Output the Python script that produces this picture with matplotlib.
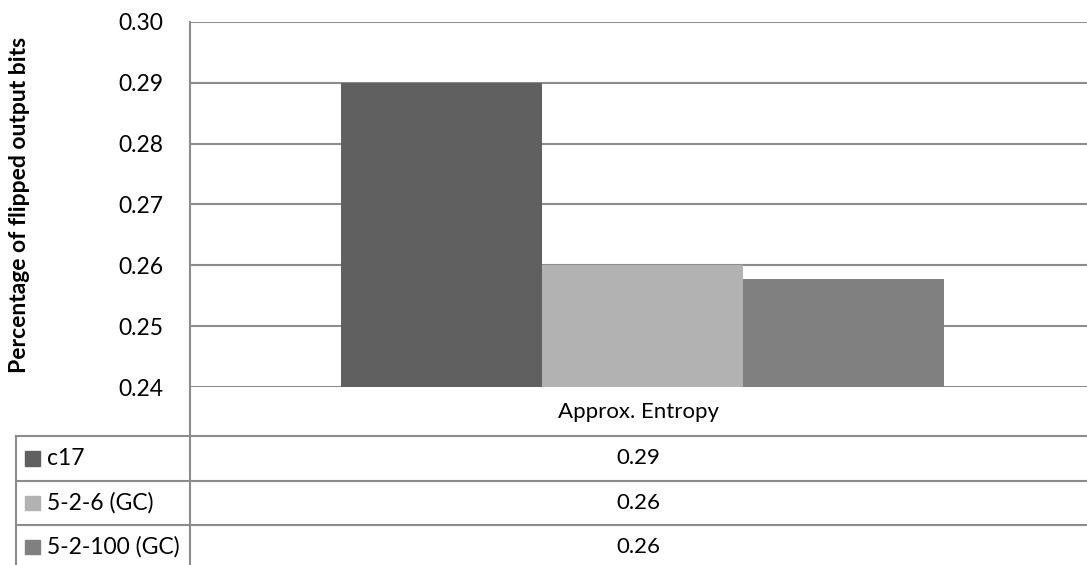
import numpy as np
import matplotlib
matplotlib.use('Agg')
import matplotlib.pyplot as plt
from matplotlib.lines import Line2D
from matplotlib.patches import Rectangle

categories = ['Approx. Entropy']
series = ['c17', '5-2-6 (GC)', '5-2-100 (GC)']
values = [0.29, 0.26, 0.2578]
table_text = ['0.29', '0.26', '0.26']
colors = ['#606060', '#b2b2b2', '#808080']
yticks = [0.24, 0.25, 0.26, 0.27, 0.28, 0.29, 0.30]

W, H = 1087, 565
LINE = '#8c8c8c'
plt.rcParams['font.family'] = ['Lato', 'DejaVu Sans']

fig = plt.figure(figsize=(W / 100, H / 100), dpi=100)


def fx(px):
    return px / W


def fy(py):
    return 1 - py / H


ax_left, ax_top, ax_bot = 190, 22, 387
ax = fig.add_axes([fx(ax_left), fy(ax_bot), 1 - fx(ax_left), fy(ax_top) - fy(ax_bot)])

width = 0.224
offsets = (np.arange(len(series)) - 1) * width
for off, v, c in zip(offsets, values, colors):
    ax.bar(off, v - 0.24, bottom=0.24, width=width, color=c, zorder=3)

ax.set_xlim(-0.5045, 0.4955)
ax.set_ylim(0.24, 0.30)
ax.set_yticks(yticks)
ax.set_yticklabels([f'{t:.2f}' for t in yticks], fontsize=16.5)
ax.tick_params(axis='y', length=0, pad=19)
ax.set_xticks([])
ax.grid(axis='y', color=LINE, linewidth=1.5, zorder=1)
for s in ['top', 'right', 'bottom']:
    ax.spines[s].set_visible(False)
ax.spines['left'].set_color(LINE)
ax.spines['left'].set_linewidth(1.5)
fig.text(fx(20), fy(205), 'Percentage of flipped output bits', rotation=90,
         fontsize=16.5, fontweight='bold', ha='center', va='center')

# data table under the plot
tab_left = 16
rows = [436, 481, 525]
xcenter = ax_left + (W - ax_left) / 2
fig.add_artist(Line2D([fx(ax_left), fx(ax_left)], [fy(ax_bot), 0], color=LINE, lw=1.5))
fig.add_artist(Line2D([fx(tab_left), fx(tab_left)], [fy(rows[0]), 0], color=LINE, lw=1.5))
for r in rows:
    fig.add_artist(Line2D([fx(tab_left), 1], [fy(r), fy(r)], color=LINE, lw=1.5))

fig.text(fx(xcenter), fy((ax_bot + rows[0]) / 2), categories[0], fontsize=16,
         ha='center', va='center')
row_bounds = rows + [H + 4]
for i, (name, txt, c) in enumerate(zip(series, table_text, colors)):
    yc = (row_bounds[i] + row_bounds[i + 1]) / 2
    fig.add_artist(Rectangle((fx(25), fy(yc + 7)), fx(15), fy(yc - 7) - fy(yc + 7),
                             transform=fig.transFigure, color=c))
    fig.text(fx(47), fy(yc), name, fontsize=16.5, ha='left', va='center')
    fig.text(fx(xcenter), fy(yc), txt, fontsize=16, ha='center', va='center')

fig.savefig('out.png', dpi=100)
